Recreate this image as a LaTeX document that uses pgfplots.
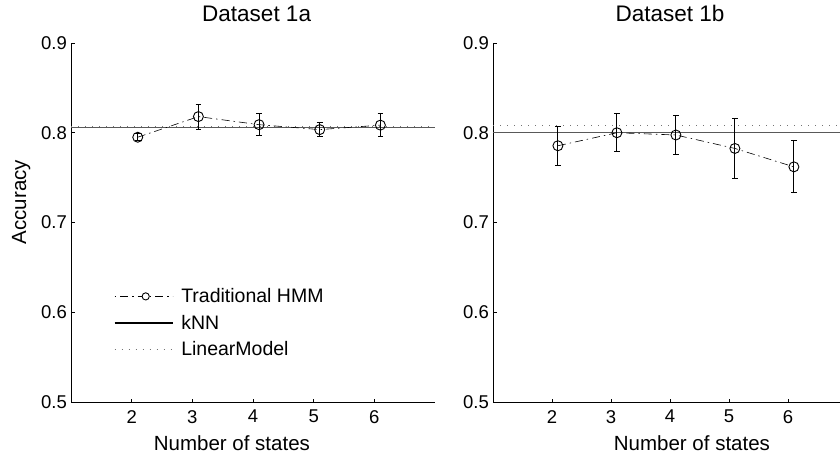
\documentclass[border=0pt]{standalone}
\usepackage{fontspec}
\setmainfont{Liberation Sans}
\usepackage{pgfplots}
\usepackage{pgfplotstable}
\pgfplotsset{compat=1.18}

\pgfplotstableread{
x y e
2.1 0.7950 0.004
3.1 0.8180 0.014
4.1 0.8090 0.012
5.1 0.8035 0.008
6.1 0.8085 0.013
}\dataA
\pgfplotstableread{
x y e
2.1 0.7855 0.022
3.1 0.8000 0.021
4.1 0.7975 0.022
5.1 0.7825 0.033
6.1 0.7620 0.029
}\dataB

\begin{document}
\begin{tikzpicture}
\pgfplotsset{
  myax/.style={
    scale only axis, height=359bp,
    xmin=1, xmax=7, ymin=0.5, ymax=0.9,
    axis x line*=bottom, axis y line*=left,
    axis line style={line width=0.9bp, black},
    xtick={2,3,4,5,6}, ytick={0.5,0.6,0.7,0.8,0.9},
    tick align=inside, major tick length=3.5bp,
    tick style={line width=0.9bp, black},
    /pgf/number format/assume math mode=true,
    yticklabel style={/pgf/number format/fixed, /pgf/number format/precision=1, /pgf/number format/fixed zerofill},
    ticklabel style={font=\fontsize{18.5bp}{22bp}\selectfont},
    yticklabel style={inner sep=0pt, xshift=-4bp},
    xticklabel style={inner sep=0pt, yshift=-8bp},
    title style={font=\fontsize{22.5bp}{26bp}\selectfont, anchor=base, inner sep=0pt, yshift=16bp},
    label style={font=\fontsize{20.5bp}{24bp}\selectfont},
    clip=false,
  },
  hmm/.style={black, line width=0.6bp, dash pattern=on 8bp off 4bp on 1.5bp off 4bp,
    mark=o, mark size=5bp, mark options={solid, line width=0.9bp},
    error bars/y dir=both, error bars/y explicit,
    error bars/error bar style={solid, line width=0.9bp},
    error bars/error mark options={rotate=90, mark size=2.8bp, solid, line width=0.9bp}},
  knn/.style={black!65, line width=1.1bp},
  lin/.style={black!55, line width=0.9bp, dash pattern=on 1bp off 6bp},
}
\path[use as bounding box] (0,0) rectangle (840bp,454bp);

\begin{axis}[myax, at={(71bp,52bp)}, anchor=south west, width=364bp,
  title={Dataset 1a},
  title style={at={(axis description cs:0.51,1)}},
  xlabel={Number of states}, ylabel={Accuracy},
  xlabel style={at={(axis description cs:0.442,-0.114)}, anchor=center},
  ylabel style={at={(axis description cs:-0.137,0.557)}, anchor=center},
  legend style={draw=none, fill=none, inner sep=0pt,
    at={(axis description cs:0.118,0.22)}, anchor=west,
    row sep=7bp, column sep=6bp,
    font=\fontsize{19.5bp}{23bp}\selectfont,
    nodes={inner sep=2bp}},
  legend cell align=left,
]
\addlegendimage{legend image code/.code={
  \draw[black, line width=0.6bp, dash pattern=on 1.5bp off 4bp on 8bp off 4bp] (0bp,0bp) -- (58bp,0bp);
  \draw[black, line width=0.9bp, fill=white] (31bp,0bp) circle (3.6bp);}}
\addlegendentry{Traditional HMM}
\addlegendimage{legend image code/.code={
  \draw[black, line width=1.1bp] (0bp,0bp) -- (58bp,0bp);}}
\addlegendentry{kNN}
\addlegendimage{legend image code/.code={
  \draw[black!55, line width=0.9bp, dash pattern=on 1bp off 6bp] (0bp,0bp) -- (58bp,0bp);}}
\addlegendentry{LinearModel}

\addplot[knn, forget plot] coordinates {(1,0.806) (7,0.806)};
\addplot[lin, forget plot] coordinates {(1,0.8075) (7,0.8075)};
\addplot[forget plot, hmm] table[x=x, y=y, y error=e] {\dataA};
\end{axis}

\begin{axis}[myax, at={(493bp,52bp)}, anchor=south west, width=354bp,
  title={Dataset 1b},
  title style={at={(axis description cs:0.5,1)}},
  xlabel={Number of states},
  xlabel style={at={(axis description cs:0.562,-0.114)}, anchor=center},
]
\addplot[knn] coordinates {(1,0.800) (7,0.800)};
\addplot[lin] coordinates {(1,0.8078) (7,0.8078)};
\addplot[hmm] table[x=x, y=y, y error=e] {\dataB};
\end{axis}
\end{tikzpicture}
\end{document}
